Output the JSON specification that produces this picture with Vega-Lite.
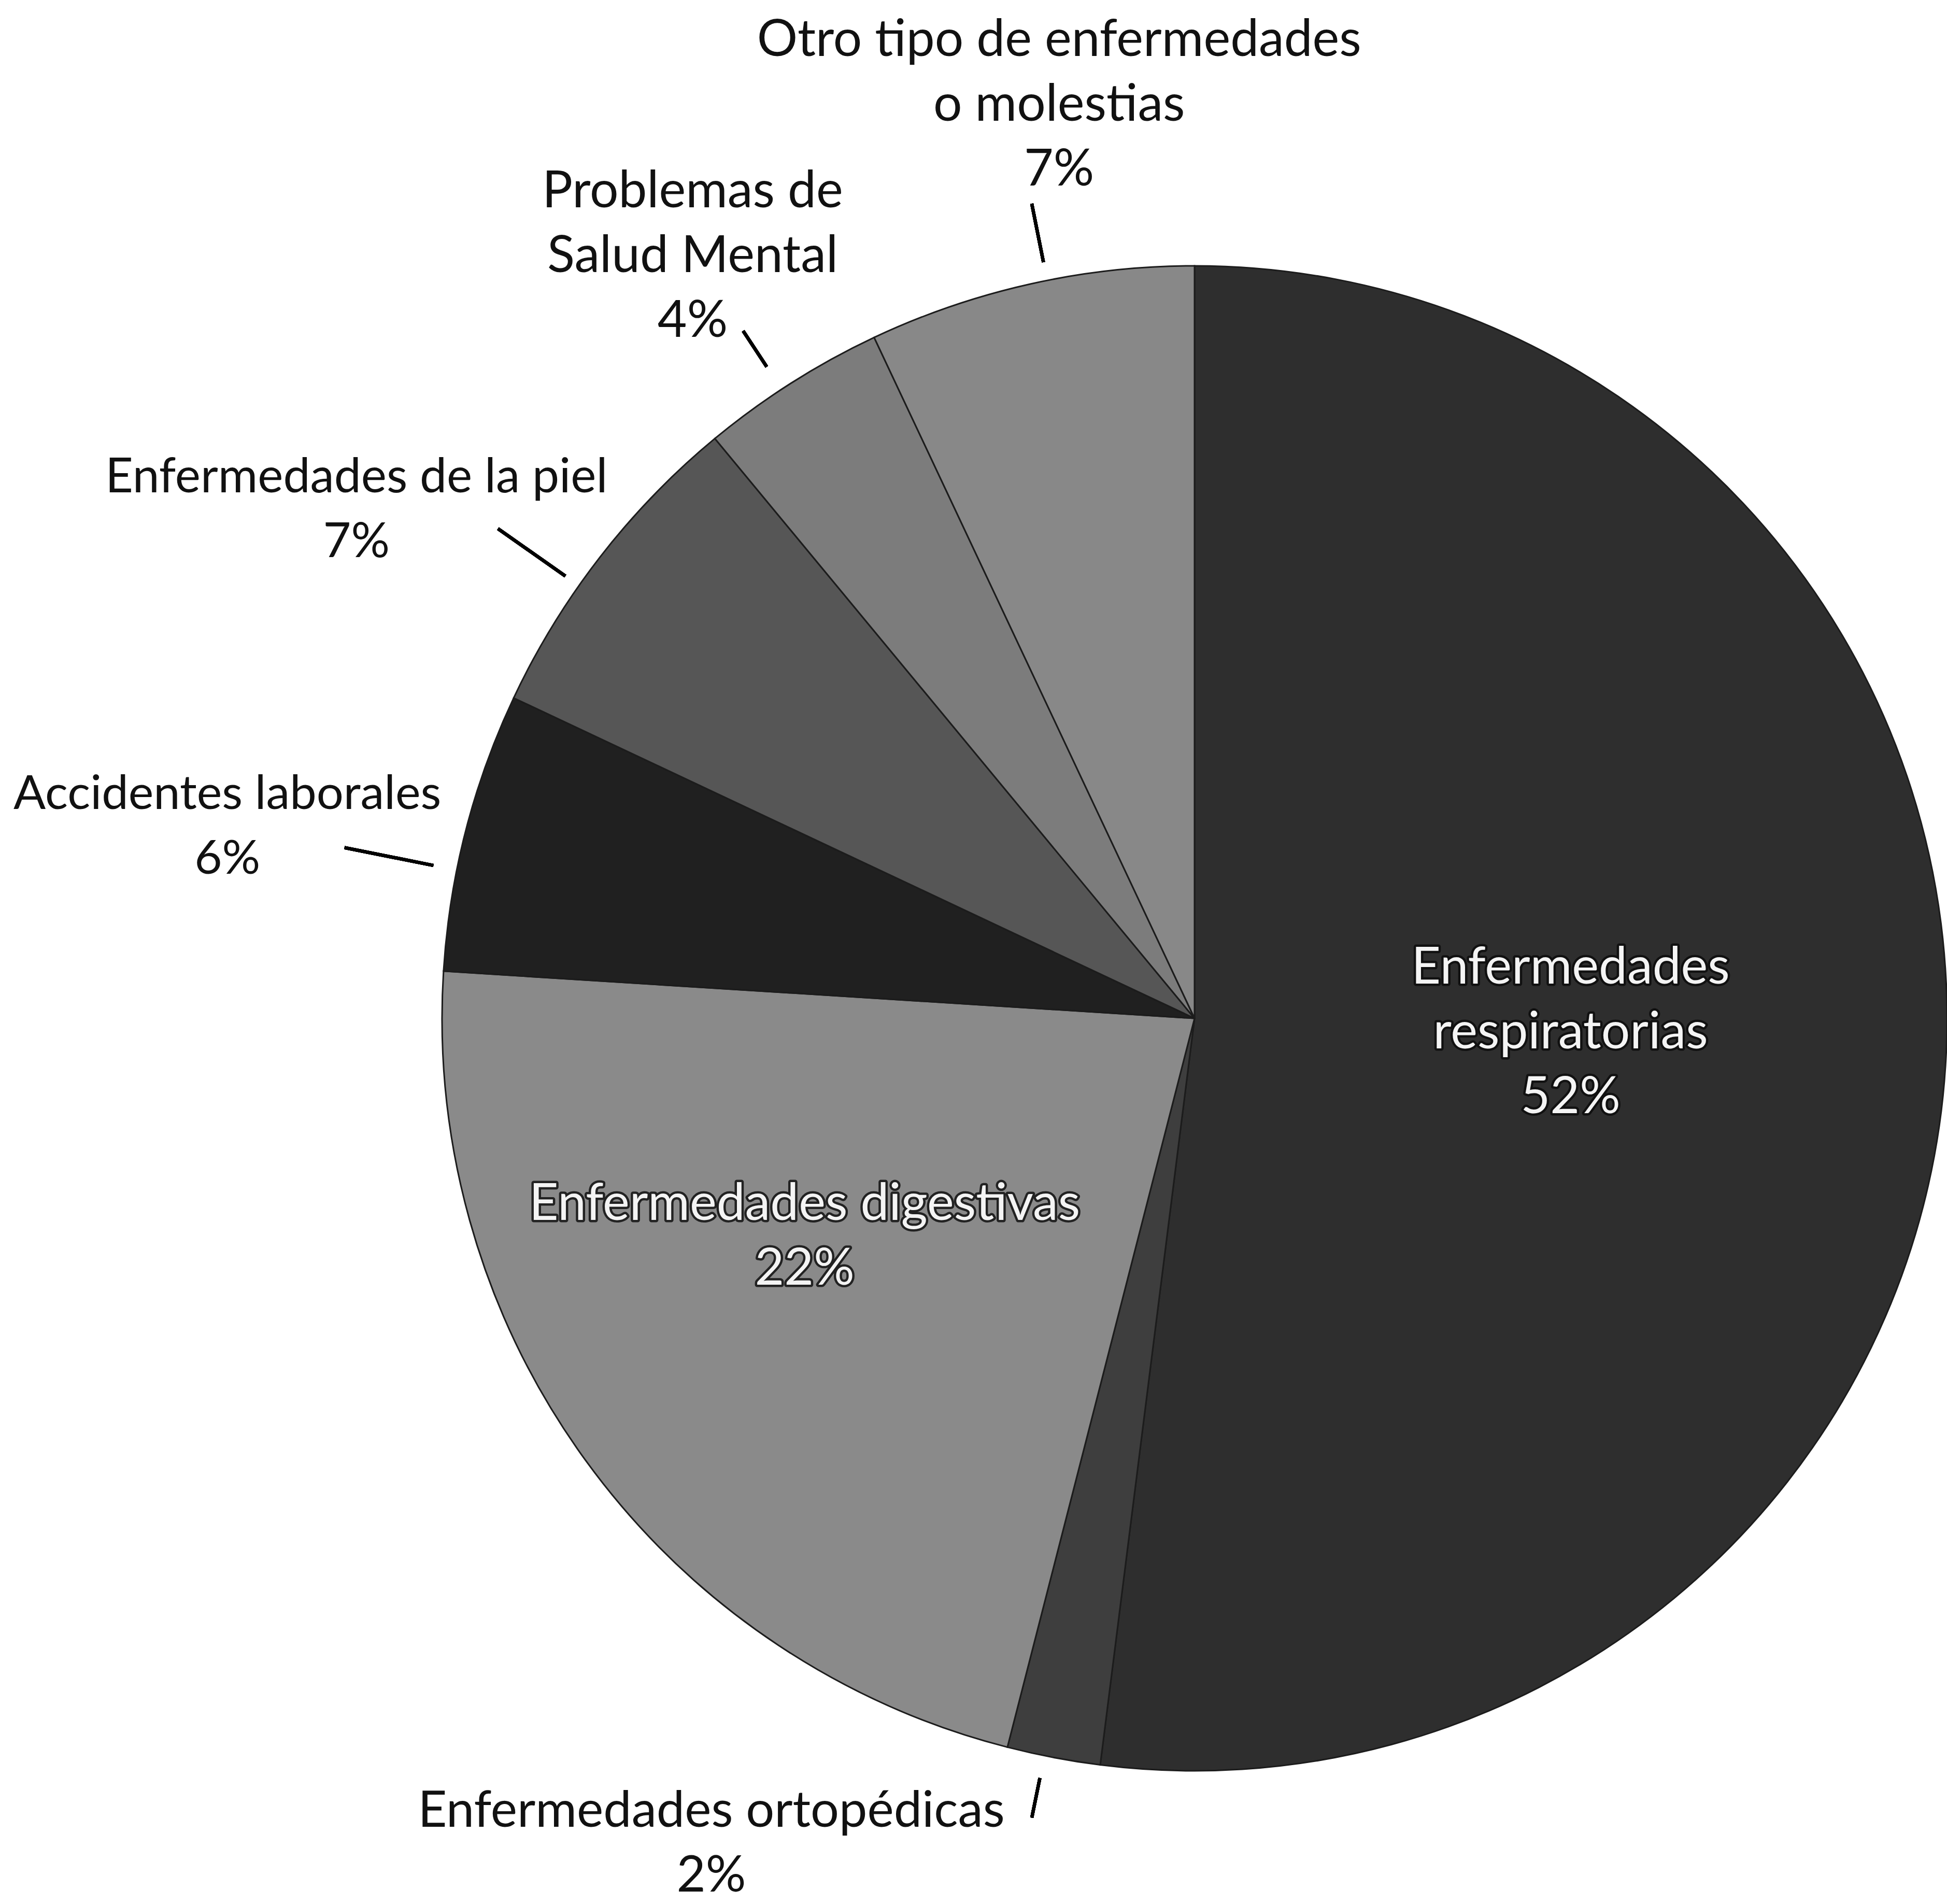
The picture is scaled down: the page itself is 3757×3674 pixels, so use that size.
{
  "$schema": "https://vega.github.io/schema/vega-lite/v6.json",
  "width": 2904,
  "height": 2904,
  "autosize": {"type": "none"},
  "padding": {"left": 853, "top": 513, "right": 0, "bottom": 257},
  "background": "white",
  "config": {"view": {"stroke": null}},
  "data": {
    "values": [
      {"categoria": "Enfermedades respiratorias", "valor": 52, "etiqueta": "Enfermedades\nrespiratorias\n52%"},
      {"categoria": "Enfermedades ortopédicas", "valor": 2, "etiqueta": "Enfermedades ortopédicas\n2%"},
      {"categoria": "Enfermedades digestivas", "valor": 22, "etiqueta": "Enfermedades digestivas\n22%"},
      {"categoria": "Accidentes laborales", "valor": 6, "etiqueta": "Accidentes laborales\n6%"},
      {"categoria": "Enfermedades de la piel", "valor": 7, "etiqueta": "Enfermedades de la piel\n7%"},
      {"categoria": "Problemas de Salud Mental", "valor": 4, "etiqueta": "Problemas de\nSalud Mental\n4%"},
      {"categoria": "Otro tipo de enfermedades o molestias", "valor": 7, "etiqueta": "Otro tipo de enfermedades\no molestias\n7%"}
    ]
  },
  "transform": [{"window": [{"op": "row_number", "as": "idx"}]}],
  "layer": [
    {
      "mark": {"type": "arc", "radius": 1452, "stroke": "#1c1c1c", "strokeWidth": 3},
      "encoding": {
        "theta": {"field": "valor", "type": "quantitative", "stack": true},
        "order": {"field": "idx", "type": "quantitative"},
        "color": {
          "field": "categoria", "type": "nominal", "legend": null,
          "scale": {
            "domain": ["Enfermedades respiratorias", "Enfermedades ortopédicas", "Enfermedades digestivas", "Accidentes laborales", "Enfermedades de la piel", "Problemas de Salud Mental", "Otro tipo de enfermedades o molestias"],
            "range": ["#2e2e2e", "#3e3e3e", "#8a8a8a", "#202020", "#565656", "#7c7c7c", "#888888"]
          }
        }
      }
    },
    {"mark": {"type": "arc", "theta": 6.0859, "theta2": 6.0861, "radius": 1600, "radius2": 1491, "stroke": "black", "strokeWidth": 6, "fill": null}, "encoding": {}},
    {"mark": {"type": "arc", "theta": 5.7021, "theta2": 5.7023, "radius": 1584, "radius2": 1507, "stroke": "black", "strokeWidth": 6, "fill": null}, "encoding": {}},
    {"mark": {"type": "arc", "theta": 5.3250, "theta2": 5.3252, "radius": 1640, "radius2": 1487, "stroke": "black", "strokeWidth": 6, "fill": null}, "encoding": {}},
    {"mark": {"type": "arc", "theta": 4.9105, "theta2": 4.9107, "radius": 1670, "radius2": 1501, "stroke": "black", "strokeWidth": 6, "fill": null}, "encoding": {}},
    {"mark": {"type": "arc", "theta": 3.3423, "theta2": 3.3425, "radius": 1571, "radius2": 1499, "stroke": "black", "strokeWidth": 6, "fill": null}, "encoding": {}},
    {
      "mark": {"type": "text", "radius": 1780, "dx": 127, "dy": -149, "font": "Lato", "fontSize": 98, "lineHeight": 125, "lineBreak": "\n", "align": "center", "baseline": "middle", "color": "#111111"},
      "encoding": {
        "theta": {"field": "valor", "type": "quantitative", "stack": true},
        "order": {"field": "idx", "type": "quantitative"},
        "text": {"condition": {"test": "datum.categoria === 'Otro tipo de enfermedades o molestias'", "field": "etiqueta"}, "value": ""}
      }
    },
    {
      "mark": {"type": "text", "radius": 1759, "dx": -26, "dy": -109, "font": "Lato", "fontSize": 98, "lineHeight": 125, "lineBreak": "\n", "align": "center", "baseline": "middle", "color": "#111111"},
      "encoding": {
        "theta": {"field": "valor", "type": "quantitative", "stack": true},
        "order": {"field": "idx", "type": "quantitative"},
        "text": {"condition": {"test": "datum.categoria === 'Problemas de Salud Mental'", "field": "etiqueta"}, "value": ""}
      }
    },
    {
      "mark": {"type": "text", "radius": 1891, "dx": -123, "dy": 116, "font": "Lato", "fontSize": 93, "lineHeight": 125, "lineBreak": "\n", "align": "center", "baseline": "middle", "color": "#111111"},
      "encoding": {
        "theta": {"field": "valor", "type": "quantitative", "stack": true},
        "order": {"field": "idx", "type": "quantitative"},
        "text": {"condition": {"test": "datum.categoria === 'Enfermedades de la piel'", "field": "etiqueta"}, "value": ""}
      }
    },
    {
      "mark": {"type": "text", "radius": 1902, "dx": -24, "dy": 41, "font": "Lato", "fontSize": 92, "lineHeight": 125, "lineBreak": "\n", "align": "center", "baseline": "middle", "color": "#111111"},
      "encoding": {
        "theta": {"field": "valor", "type": "quantitative", "stack": true},
        "order": {"field": "idx", "type": "quantitative"},
        "text": {"condition": {"test": "datum.categoria === 'Accidentes laborales'", "field": "etiqueta"}, "value": ""}
      }
    },
    {
      "mark": {"type": "text", "radius": 1854, "dx": -585, "dy": -290, "font": "Lato", "fontSize": 97, "lineHeight": 125, "lineBreak": "\n", "align": "center", "baseline": "middle", "color": "#111111"},
      "encoding": {
        "theta": {"field": "valor", "type": "quantitative", "stack": true},
        "order": {"field": "idx", "type": "quantitative"},
        "text": {"condition": {"test": "datum.categoria === 'Enfermedades ortopédicas'", "field": "etiqueta"}, "value": ""}
      }
    },
    {
      "mark": {"type": "text", "radius": 727, "dx": 0, "dy": -142, "font": "Lato", "fontSize": 98, "lineHeight": 125, "lineBreak": "\n", "align": "center", "baseline": "middle", "color": "#111111", "stroke": "#111111", "strokeWidth": 9, "strokeJoin": "round"},
      "encoding": {
        "theta": {"field": "valor", "type": "quantitative", "stack": true},
        "order": {"field": "idx", "type": "quantitative"},
        "text": {"condition": {"test": "datum.categoria === 'Enfermedades respiratorias'", "field": "etiqueta"}, "value": ""}
      }
    },
    {
      "mark": {"type": "text", "radius": 727, "dx": 0, "dy": -142, "font": "Lato", "fontSize": 98, "lineHeight": 125, "lineBreak": "\n", "align": "center", "baseline": "middle", "color": "#f4f4f4"},
      "encoding": {
        "theta": {"field": "valor", "type": "quantitative", "stack": true},
        "order": {"field": "idx", "type": "quantitative"},
        "text": {"condition": {"test": "datum.categoria === 'Enfermedades respiratorias'", "field": "etiqueta"}, "value": ""}
      }
    },
    {
      "mark": {"type": "text", "radius": 862, "dx": -55, "dy": -147, "font": "Lato", "fontSize": 98, "lineHeight": 125, "lineBreak": "\n", "align": "center", "baseline": "middle", "color": "#222222", "stroke": "#222222", "strokeWidth": 9, "strokeJoin": "round"},
      "encoding": {
        "theta": {"field": "valor", "type": "quantitative", "stack": true},
        "order": {"field": "idx", "type": "quantitative"},
        "text": {"condition": {"test": "datum.categoria === 'Enfermedades digestivas'", "field": "etiqueta"}, "value": ""}
      }
    },
    {
      "mark": {"type": "text", "radius": 862, "dx": -55, "dy": -147, "font": "Lato", "fontSize": 98, "lineHeight": 125, "lineBreak": "\n", "align": "center", "baseline": "middle", "color": "#f4f4f4"},
      "encoding": {
        "theta": {"field": "valor", "type": "quantitative", "stack": true},
        "order": {"field": "idx", "type": "quantitative"},
        "text": {"condition": {"test": "datum.categoria === 'Enfermedades digestivas'", "field": "etiqueta"}, "value": ""}
      }
    }
  ]
}
